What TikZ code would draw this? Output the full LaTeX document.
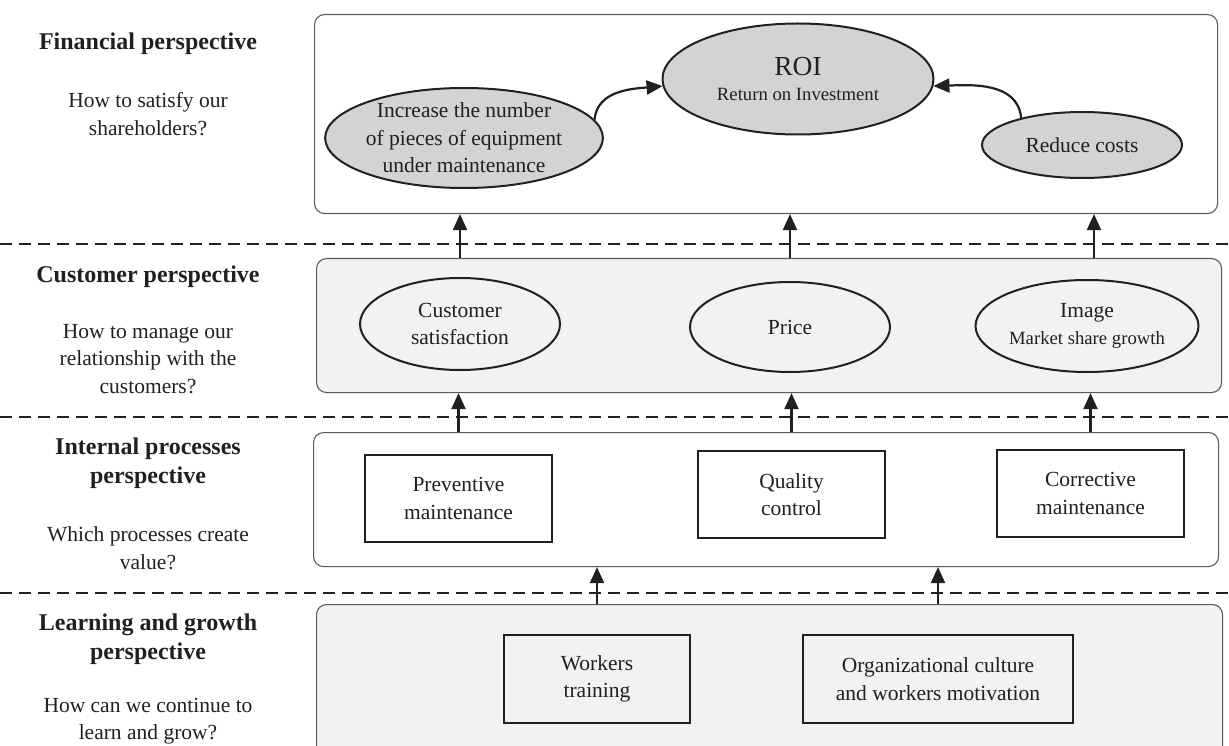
\documentclass[tikz,border=0pt]{standalone}
\usepackage{fontspec}
\setmainfont{Liberation Serif}
\usetikzlibrary{shapes.geometric,arrows.meta,positioning}

\definecolor{ink}{HTML}{231F20}
\definecolor{framegray}{HTML}{5A5B5D}
\definecolor{goalgray}{HTML}{D1D3D4}
\definecolor{panelgray}{HTML}{F1F2F3}

\newcommand{\txt}{\fontsize{21.5}{27.5}\selectfont}
\newcommand{\headtxt}{\fontsize{24}{29.5}\selectfont\bfseries}
\newcommand{\smalltxt}{\fontsize{18.7}{24}\selectfont}

\tikzset{
  panel/.style={draw=framegray, line width=1.1pt, rounded corners=10pt, anchor=north west, inner sep=0pt},
  goal/.style={ellipse, draw=ink, line width=2pt, inner sep=0pt, align=center, font=\txt, text=ink},
  task/.style={rectangle, draw=ink, line width=2.4pt, inner sep=0pt, align=center, font=\txt, text=ink, minimum height=87pt},
  flow/.style={-{Triangle[length=16pt,width=14pt]}, line width=2.2pt, draw=ink},
  divider/.style={dash pattern=on 12pt off 7pt, line width=2pt, draw=ink},
  perspective/.style={align=center, font=\headtxt, text=ink},
  question/.style={align=center, font=\txt, text=ink},
}

\begin{document}
\begin{tikzpicture}[x=1pt, y=-1pt]
    \useasboundingbox (0,0) rectangle (1229,746);

    % layers
    \node[panel, minimum width=903pt, minimum height=199pt] (finbox) at (314,14) {};
    \node[panel, fill=panelgray, minimum width=905pt, minimum height=134pt] (custbox) at (316,258) {};
    \node[panel, minimum width=905pt, minimum height=134pt] (procbox) at (313,432) {};
    \node[panel, fill=panelgray, minimum width=906pt, minimum height=170pt] (learnbox) at (316,604) {};

    \draw[divider] (0,244) -- (1229,244);
    \draw[divider] (0,417) -- (1229,417);
    \draw[divider] (0,593) -- (1229,593);

    % perspectives on the left
    \node[perspective] (finhead) at (148,44) {Financial perspective};
    \node[question] (finask) at (148,114) {How to satisfy our\\shareholders?};
    \node[perspective] (custhead) at (148,277) {Customer perspective};
    \node[question] (custask) at (148,359) {How to manage our\\relationship with the\\customers?};
    \node[perspective] (prochead) at (148,463) {Internal processes\\perspective};
    \node[question] (procask) at (148,548) {Which processes create\\value?};
    \node[perspective] (learnhead) at (148,639) {Learning and growth\\perspective};
    \node[question] (learnask) at (148,721) {How can we continue to\\learn and grow?};

    % financial
    \node[goal, fill=goalgray, minimum width=274pt, minimum height=100pt] (incr) at (464,138)
        {Increase the number\\of pieces of equipment\\under maintenance};
    \node[goal, fill=goalgray, minimum width=271pt, minimum height=111pt, font=\smalltxt] (roi) at (798,79)
        {{\fontsize{27.5}{30}\selectfont ROI}\\[1pt]Return on Investment};
    \node[goal, fill=goalgray, minimum width=200pt, minimum height=66pt] (cost) at (1082,145) {Reduce costs};

    % customer
    \node[goal, fill=panelgray, minimum width=200pt, minimum height=92pt] (sat) at (460,324) {Customer\\satisfaction};
    \node[goal, fill=panelgray, minimum width=200pt, minimum height=90pt] (price) at (790,327) {Price};
    \node[goal, fill=panelgray, minimum width=223pt, minimum height=92pt] (img) at (1087,326)
        {Image\\{\smalltxt Market share growth}};

    % internal processes
    \node[task, fill=white, minimum width=187pt] (prev) at (458.5,498.5) {Preventive\\maintenance};
    \node[task, fill=white, minimum width=187pt] (qual) at (791.5,494.5) {Quality\\control};
    \node[task, fill=white, minimum width=187pt] (corr) at (1090.5,493.5) {Corrective\\maintenance};

    % learning and growth
    \node[task, fill=panelgray, minimum width=186pt, minimum height=88pt] (train) at (597,679) {Workers\\training};
    \node[task, fill=panelgray, minimum width=270pt, minimum height=88pt] (motiv) at (938,679)
        {Organizational culture\\and workers motivation};

    % links
    \draw[flow] (incr.8) to[out=85, in=185] (roi.183);
    \draw[flow] (cost.156) to[out=95, in=2] (roi.357);

    \draw[flow] (sat |- custbox.north) -- (sat |- finbox.south);
    \draw[flow] (price |- custbox.north) -- (price |- finbox.south);
    \draw[flow] ([xshift=7pt]img |- custbox.north) -- ([xshift=7pt]img |- finbox.south);

    \draw[flow] (prev |- procbox.north) -- (prev |- custbox.south);
    \draw[flow] (qual |- procbox.north) -- (qual |- custbox.south);
    \draw[flow] (corr |- procbox.north) -- (corr |- custbox.south);

    \draw[flow] (train |- learnbox.north) -- (train |- procbox.south);
    \draw[flow] (motiv |- learnbox.north) -- (motiv |- procbox.south);
\end{tikzpicture}
\end{document}
